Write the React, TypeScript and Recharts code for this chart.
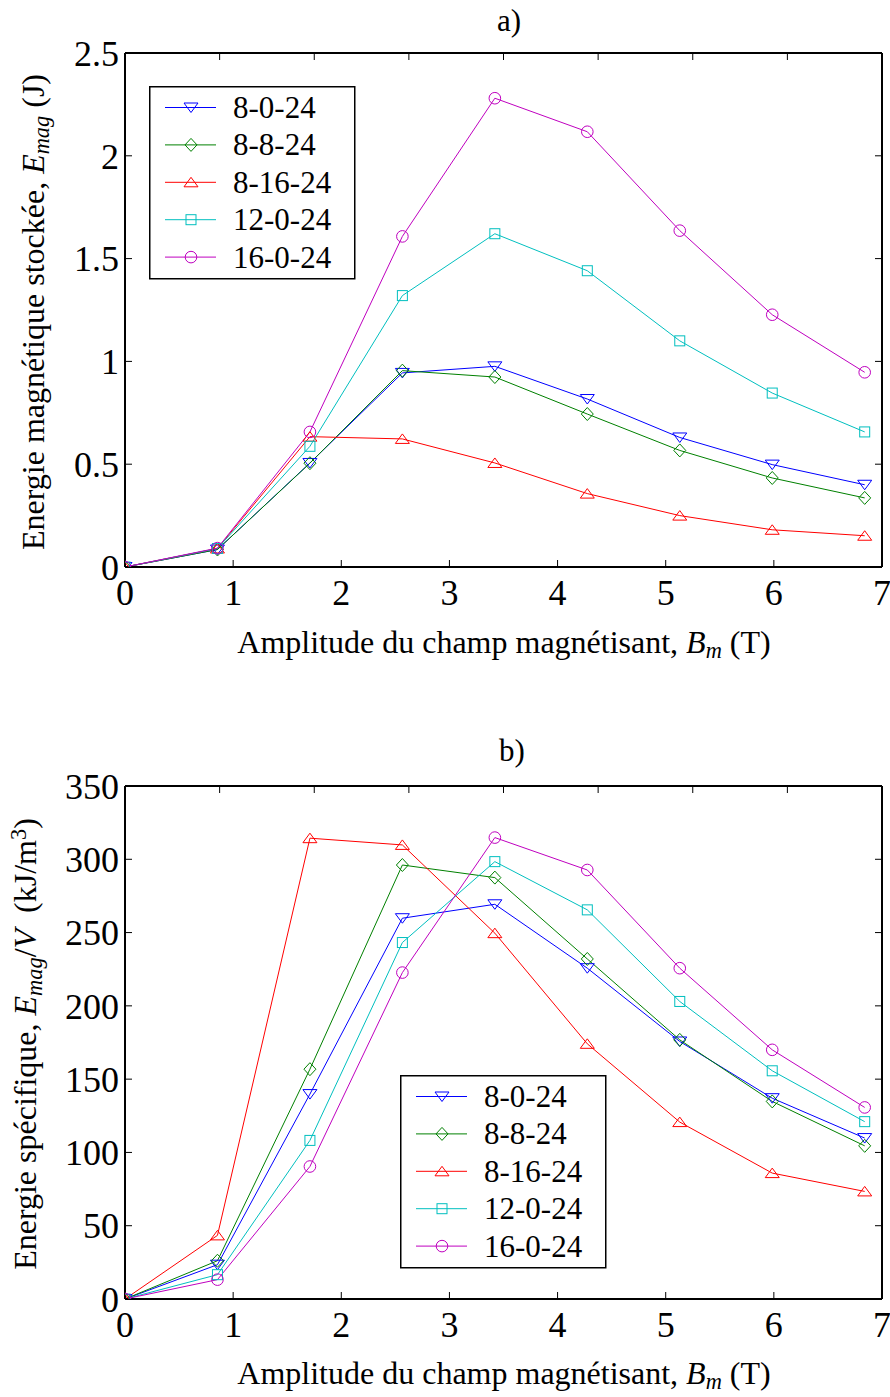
import React from 'react';
import { LineChart, Line, XAxis, YAxis, Legend } from 'recharts';

const FONT = "'Liberation Serif', 'Times New Roman', serif";

// Shared x positions (B_m, T)
const bmValues = [0, 0.855, 1.71, 2.565, 3.42, 4.275, 5.13, 5.985, 6.84];
const xTicks = [0, 1, 2, 3, 4, 5, 6, 7];

// Chart a) stored magnetic energy (J)
const energy_8_0_24 = [0, 0.085, 0.506, 0.944, 0.976, 0.817, 0.63, 0.498, 0.4];
const energy_8_8_24 = [0, 0.085, 0.505, 0.955, 0.924, 0.744, 0.567, 0.433, 0.336];
const energy_8_16_24 = [0, 0.09, 0.634, 0.623, 0.506, 0.357, 0.25, 0.181, 0.152];
const energy_12_0_24 = [0, 0.09, 0.587, 1.32, 1.621, 1.441, 1.1, 0.846, 0.657];
const energy_16_0_24 = [0, 0.092, 0.657, 1.608, 2.28, 2.117, 1.636, 1.227, 0.947];
const yTicksA = [0, 0.5, 1, 1.5, 2, 2.5];

// Chart b) specific energy (kJ/m3)
const specific_8_0_24 = [0, 23.4, 139.8, 259.8, 269.3, 225.7, 175.7, 137, 109.8];
const specific_8_8_24 = [0, 26.1, 156.8, 296.1, 287.5, 232, 176.8, 134.8, 104.5];
const specific_8_16_24 = [0, 43.4, 314.4, 309.8, 249.6, 174.1, 120.7, 85.9, 73.4];
const specific_12_0_24 = [0, 16.6, 108.2, 243.2, 298.4, 265.5, 203, 155.7, 121];
const specific_16_0_24 = [0, 13.2, 90.4, 222.7, 314.8, 292.7, 225.7, 170, 130.7];
const yTicksB = [0, 50, 100, 150, 200, 250, 300, 350];

const seriesNames = ['8-0-24', '8-8-24', '8-16-24', '12-0-24', '16-0-24'];
const seriesKeys = ['s8_0_24', 's8_8_24', 's8_16_24', 's12_0_24', 's16_0_24'];
const seriesColors = ['#0000ff', '#008000', '#ff0000', '#00bfbf', '#bf00bf'];
const seriesShapes = ['tdown', 'diamond', 'tup', 'square', 'circle'];

const dataA = bmValues.map((x, i) => ({
  x,
  s8_0_24: energy_8_0_24[i],
  s8_8_24: energy_8_8_24[i],
  s8_16_24: energy_8_16_24[i],
  s12_0_24: energy_12_0_24[i],
  s16_0_24: energy_16_0_24[i],
}));

const dataB = bmValues.map((x, i) => ({
  x,
  s8_0_24: specific_8_0_24[i],
  s8_8_24: specific_8_8_24[i],
  s8_16_24: specific_8_16_24[i],
  s12_0_24: specific_12_0_24[i],
  s16_0_24: specific_16_0_24[i],
}));

function Marker({ shape, cx, cy, color }: { shape: string; cx: number; cy: number; color: string }) {
  const common = { fill: 'none', stroke: color, strokeWidth: 1 };
  switch (shape) {
    case 'tdown':
      return <polygon {...common} points={`${cx - 7},${cy - 4.5} ${cx + 7},${cy - 4.5} ${cx},${cy + 5}`} />;
    case 'tup':
      return <polygon {...common} points={`${cx - 7},${cy + 4.5} ${cx + 7},${cy + 4.5} ${cx},${cy - 5}`} />;
    case 'diamond':
      return <polygon {...common} points={`${cx},${cy - 6.5} ${cx + 6},${cy} ${cx},${cy + 6.5} ${cx - 6},${cy}`} />;
    case 'square':
      return <rect {...common} x={cx - 5} y={cy - 5} width={10} height={10} />;
    default:
      return <circle {...common} cx={cx} cy={cy} r={5.8} />;
  }
}

const makeDot = (shape: string, color: string) => (props: any) => {
  const { cx, cy, index } = props;
  if (cx == null || cy == null) return <g key={`d${index}`} />;
  return (
    <g key={`d${index}`}>
      <Marker shape={shape} cx={cx} cy={cy} color={color} />
    </g>
  );
};

const renderLegend = () => (
  <svg width={207} height={194} style={{ display: 'block' }}>
    <rect x={0.75} y={0.75} width={205} height={192} fill="#fff" stroke="#000" strokeWidth={1.5} />
    {seriesNames.map((name, i) => {
      const y = 21.5 + i * 37.4;
      return (
        <g key={name}>
          <line x1={16} x2={67} y1={y} y2={y} stroke={seriesColors[i]} strokeWidth={1} />
          <Marker shape={seriesShapes[i]} cx={42} cy={y} color={seriesColors[i]} />
          <text x={84} y={y} dominantBaseline="central" fontFamily={FONT} fontSize={31} fill="#000">
            {name}
          </text>
        </g>
      );
    })}
  </svg>
);

const noTick = () => <g />;
const tickStyle = { fill: '#000', fontSize: 36, fontFamily: FONT };
const axisLineStyle = { stroke: '#000', strokeWidth: 2 };
const tickLineStyle = { stroke: '#000', strokeWidth: 1 };

function Panel({
  data,
  width,
  height,
  marginTop,
  bottomAxisHeight,
  yDomain,
  yTicks,
  legendLeft,
  legendTop,
}: any) {
  return (
    <LineChart
      width={width}
      height={height}
      data={data}
      margin={{ top: marginTop, right: 7, bottom: 0, left: 0 }}
    >
      <XAxis
        xAxisId="bottom"
        dataKey="x"
        type="number"
        orientation="bottom"
        domain={[0, 7]}
        ticks={xTicks}
        interval={0}
        allowDataOverflow
        height={bottomAxisHeight}
        tickSize={-7}
        tickMargin={19}
        tickLine={tickLineStyle}
        axisLine={axisLineStyle}
        tick={tickStyle}
      />
      <XAxis
        xAxisId="top"
        type="number"
        orientation="top"
        domain={[0, 7]}
        ticks={xTicks}
        interval={0}
        allowDataOverflow
        height={1}
        tickSize={-7}
        tickLine={tickLineStyle}
        axisLine={axisLineStyle}
        tick={noTick}
      />
      <YAxis
        yAxisId="left"
        type="number"
        orientation="left"
        domain={yDomain}
        ticks={yTicks}
        interval={0}
        allowDataOverflow
        width={125}
        tickSize={-7}
        tickMargin={13}
        tickLine={tickLineStyle}
        axisLine={axisLineStyle}
        tick={tickStyle}
      />
      <YAxis
        yAxisId="right"
        type="number"
        orientation="right"
        domain={yDomain}
        ticks={yTicks}
        interval={0}
        allowDataOverflow
        width={1}
        tickSize={-7}
        tickLine={tickLineStyle}
        axisLine={axisLineStyle}
        tick={noTick}
      />
      {seriesKeys.map((k, i) => (
        <Line
          key={k}
          xAxisId="bottom"
          yAxisId="left"
          dataKey={k}
          name={seriesNames[i]}
          type="linear"
          stroke={seriesColors[i]}
          strokeWidth={1}
          dot={makeDot(seriesShapes[i], seriesColors[i])}
          activeDot={false}
          isAnimationActive={false}
        />
      ))}
      <Legend
        layout="vertical"
        align="center"
        verticalAlign="middle"
        content={renderLegend}
        wrapperStyle={{ position: 'absolute', left: legendLeft, top: legendTop, width: 207, height: 194 }}
      />
    </LineChart>
  );
}

const textBase: React.CSSProperties = {
  position: 'absolute',
  fontFamily: FONT,
  color: '#000',
  whiteSpace: 'nowrap',
  lineHeight: 1,
};

const subStyle: React.CSSProperties = { fontSize: '0.7em', fontStyle: 'italic', verticalAlign: '-0.25em' };

export default function App() {
  return (
    <div style={{ position: 'absolute', left: 0, top: 0, width: 890, height: 1397, background: '#fff' }}>
      <div style={{ position: 'absolute', left: 0, top: 0 }}>
        <Panel
          data={dataA}
          width={890}
          height={700}
          marginTop={52}
          bottomAxisHeight={133}
          yDomain={[0, 2.5]}
          yTicks={yTicksA}
          legendLeft={149}
          legendTop={86}
        />
      </div>
      <div style={{ position: 'absolute', left: 0, top: 700 }}>
        <Panel
          data={dataB}
          width={890}
          height={697}
          marginTop={85}
          bottomAxisHeight={98}
          yDomain={[0, 350]}
          yTicks={yTicksB}
          legendLeft={400}
          legendTop={375}
        />
      </div>

      {/* Chart a) titles */}
      <div style={{ ...textBase, fontSize: 31, left: 509, top: 20, transform: 'translate(-50%, -50%)' }}>a)</div>
      <div style={{ ...textBase, fontSize: 32, left: 504, top: 644, transform: 'translate(-50%, -50%)' }}>
        Amplitude du champ magnétisant, <i>B</i>
        <sub style={subStyle}>m</sub> (T)
      </div>
      <div
        style={{
          ...textBase,
          fontSize: 32,
          left: 35,
          top: 312,
          transform: 'translate(-50%, -50%) rotate(-90deg)',
        }}
      >
        Energie magnétique stockée, <i>E</i>
        <sub style={subStyle}>mag</sub> (J)
      </div>

      {/* Chart b) titles */}
      <div style={{ ...textBase, fontSize: 31, left: 512, top: 750, transform: 'translate(-50%, -50%)' }}>b)</div>
      <div style={{ ...textBase, fontSize: 32, left: 504, top: 1375, transform: 'translate(-50%, -50%)' }}>
        Amplitude du champ magnétisant, <i>B</i>
        <sub style={subStyle}>m</sub> (T)
      </div>
      <div
        style={{
          ...textBase,
          fontSize: 32,
          left: 27,
          top: 1044,
          transform: 'translate(-50%, -50%) rotate(-90deg)',
        }}
      >
        Energie spécifique, <i>E</i>
        <sub style={subStyle}>mag</sub>/<i>V</i>
        {'\u00a0 '}(kJ/m
        <sup style={{ fontSize: '0.7em', verticalAlign: '0.45em' }}>3</sup>)
      </div>
    </div>
  );
}
